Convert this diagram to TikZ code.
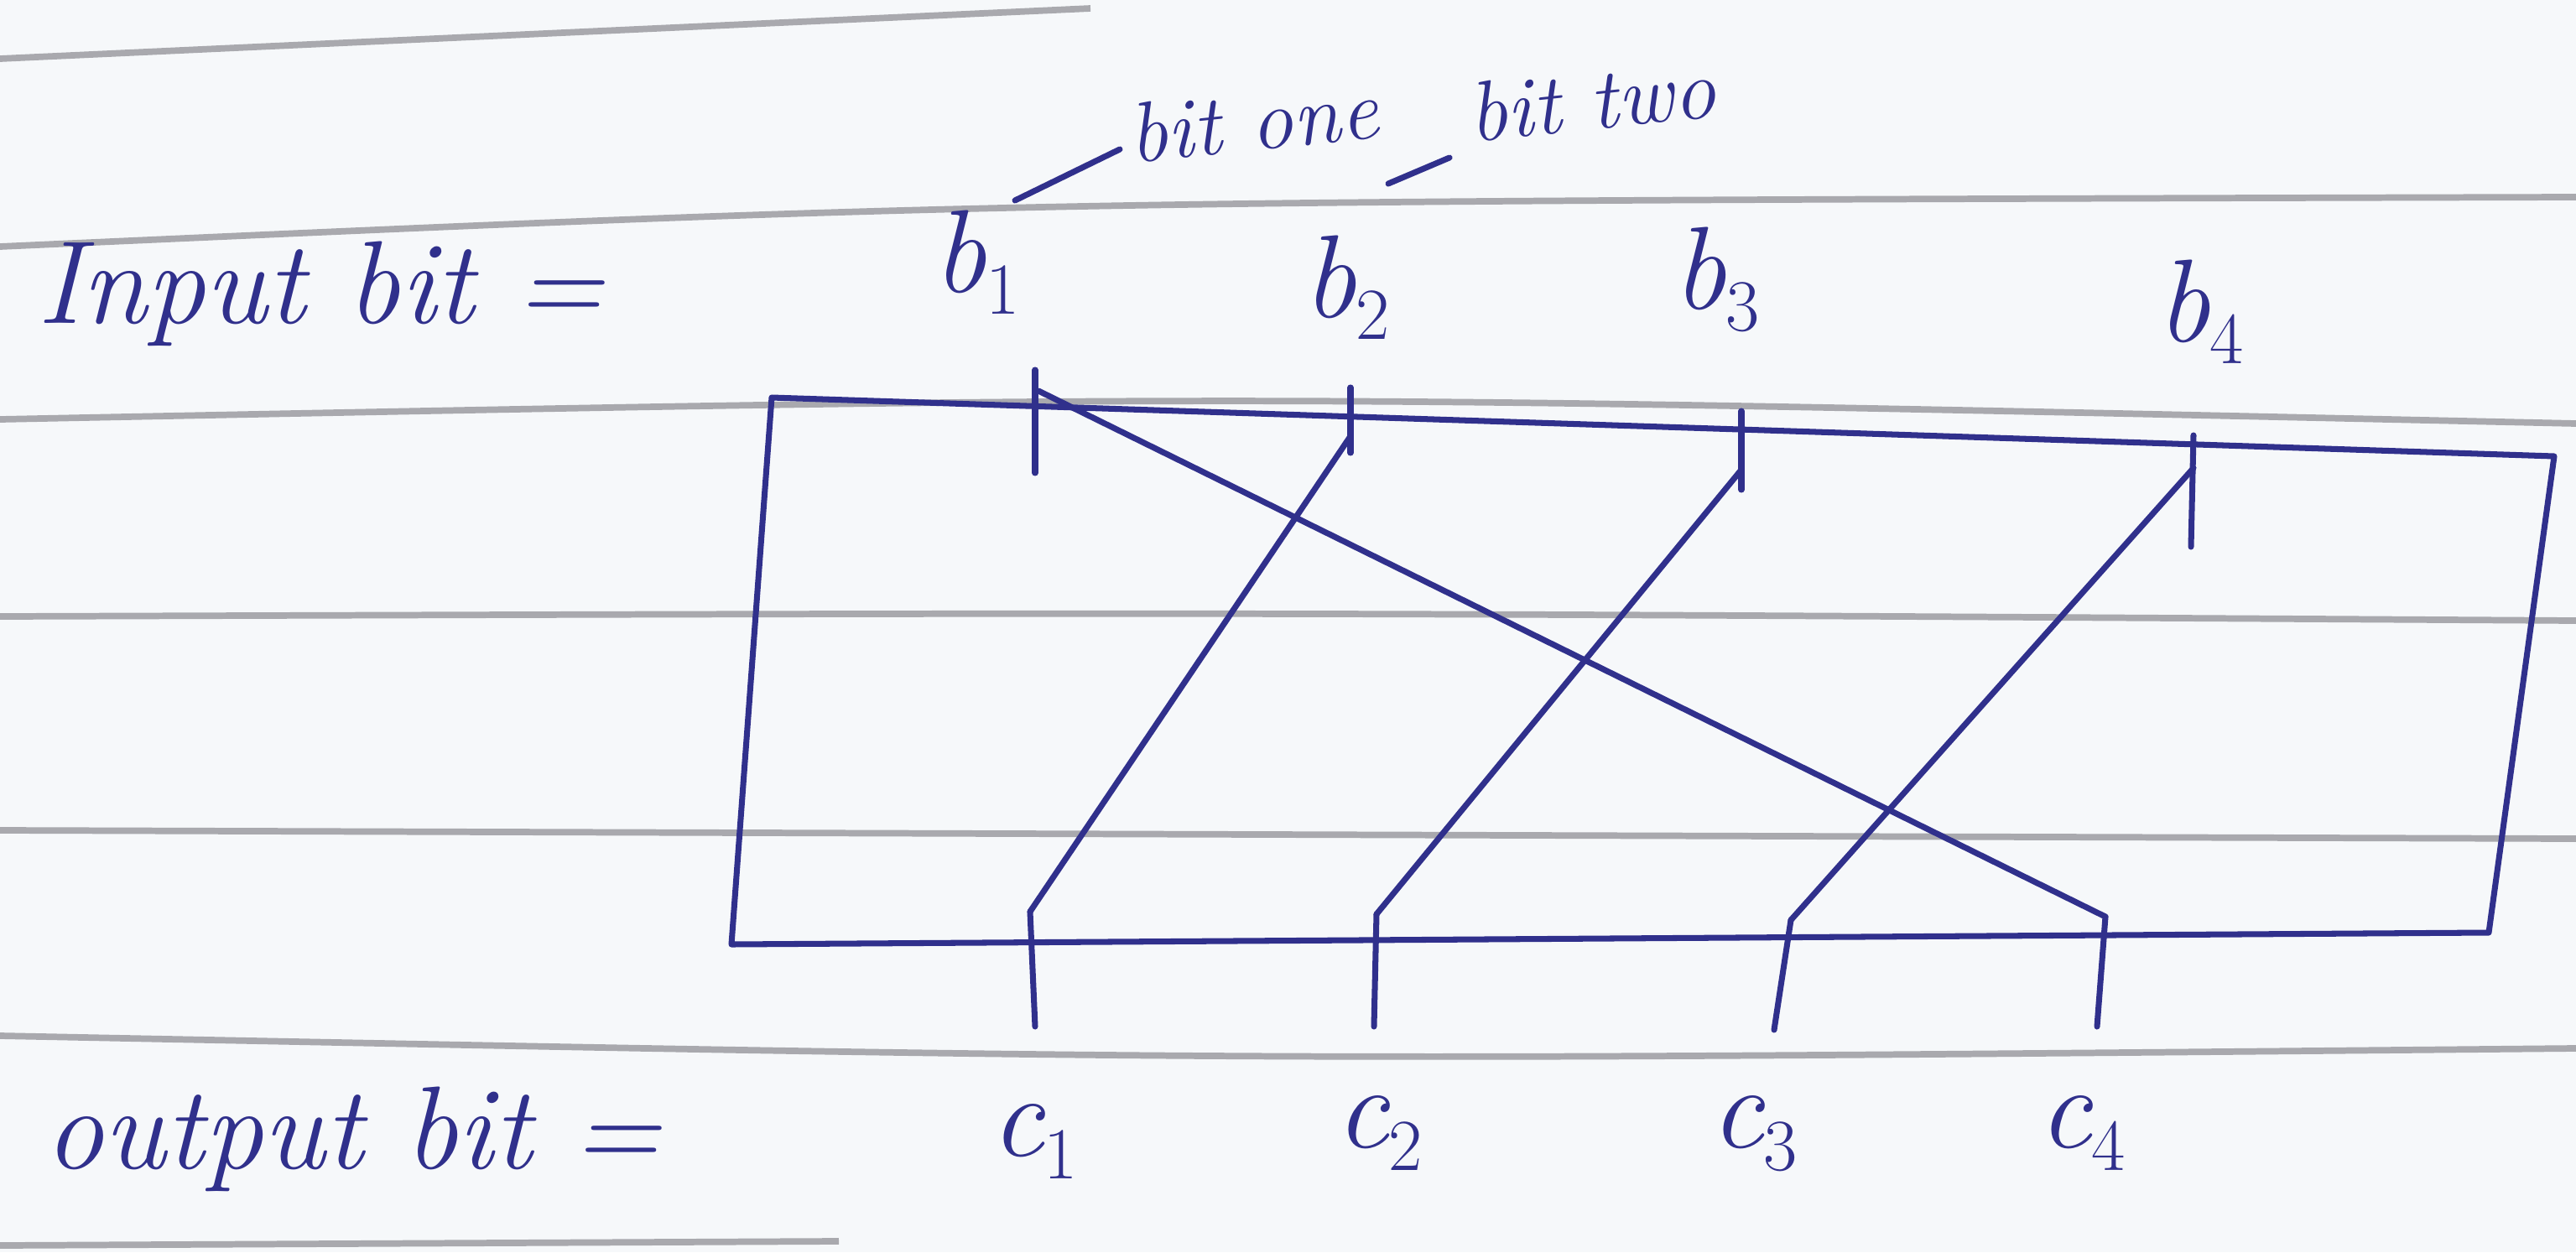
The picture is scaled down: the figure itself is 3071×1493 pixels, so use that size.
\documentclass[tikz,border=0pt]{standalone}
\usepackage{xcolor}
\definecolor{ink}{RGB}{48,48,140}
\definecolor{rule}{RGB}{150,150,155}
\definecolor{paper}{RGB}{246,248,250}
\begin{document}
\begin{tikzpicture}[x=0.01cm,y=-0.01cm,
  wire/.style={draw=ink,line width=2pt,line cap=round,line join=round},
  ruling/.style={draw=rule,line width=2.2pt,opacity=0.8},
  lbl/.style={text=ink,font=\fontsize{40}{48}\selectfont\itshape,inner sep=0pt},
  small/.style={text=ink,font=\fontsize{29}{34}\selectfont\itshape,inner sep=0pt}]
\fill[paper] (0,0) rectangle (3071,1493);
\useasboundingbox (0,0) rectangle (3071,1493);
% ruled lines of the paper
\draw[ruling] (0,70) -- (1300,10);
\draw[ruling] (0,294) .. controls (1200,240) .. (3071,235);
\draw[ruling] (0,500) .. controls (1500,470) .. (3071,505);
\draw[ruling] (0,735) .. controls (1500,730) .. (3071,740);
\draw[ruling] (0,990) .. controls (1500,995) .. (3071,1000);
\draw[ruling] (0,1235) .. controls (1500,1265) .. (3071,1250);
\draw[ruling] (0,1485) -- (1000,1480);
% box
\coordinate (TL) at (920,474);
\coordinate (TR) at (3045,544);
\coordinate (BR) at (2967,1112);
\coordinate (BL) at (872,1126);
\draw[wire] (TL) -- (TR) -- (BR) -- (BL) -- cycle;
% labels
\node[lbl] (inp) at (382,350) {Input bit =};
\node[lbl] (outp) at (421,1358) {output bit =};
\node[lbl] (b1) at (1165,313) {b$_{\scriptstyle 1}$};
\node[lbl] (b2) at (1606,343) {b$_{\scriptstyle 2}$};
\node[lbl] (b3) at (2047,333) {b$_{\scriptstyle 3}$};
\node[lbl] (b4) at (2624,372) {b$_{\scriptstyle 4}$};
\node[lbl] (c1) at (1234,1361) {c$_{\scriptstyle 1}$};
\node[lbl] (c2) at (1645,1351) {c$_{\scriptstyle 2}$};
\node[lbl] (c3) at (2092,1351) {c$_{\scriptstyle 3}$};
\node[lbl] (c4) at (2483,1351) {c$_{\scriptstyle 4}$};
\node[small,rotate=6,anchor=west] (one) at (1345,160) {bit one};
\node[small,rotate=6,anchor=west] (two) at (1750,135) {bit two};
% leader lines
\coordinate (l1a) at (1210,239); \coordinate (l1b) at (1335,178);
\coordinate (l2a) at (1655,219); \coordinate (l2b) at (1728,188);
\draw[wire] (l1a) -- (l1b);
\draw[wire] (l2a) -- (l2b);
% input ticks
\coordinate (t1a) at (1234,441); \coordinate (t1b) at (1234,564);
\coordinate (t2a) at (1610,462); \coordinate (t2b) at (1610,540);
\coordinate (t3a) at (2076,490); \coordinate (t3b) at (2076,584);
\coordinate (t4a) at (2615,519); \coordinate (t4b) at (2612,652);
\draw[wire] (t1a) -- (t1b);
\draw[wire] (t2a) -- (t2b);
\draw[wire] (t3a) -- (t3b);
\draw[wire] (t4a) -- (t4b);
% output ticks
\coordinate (u1a) at (1228,1087); \coordinate (u1b) at (1234,1224);
\coordinate (u2a) at (1641,1090); \coordinate (u2b) at (1638,1224);
\coordinate (u3a) at (2135,1097); \coordinate (u3b) at (2115,1228);
\coordinate (u4a) at (2510,1093); \coordinate (u4b) at (2500,1224);
\draw[wire] (u1a) -- (u1b);
\draw[wire] (u2a) -- (u2b);
\draw[wire] (u3a) -- (u3b);
\draw[wire] (u4a) -- (u4b);
% permutation wires
\draw[wire] (t1a) ++(4,25) -- (u4a);
\draw[wire] (t2b) ++(0,-20) -- (u1a);
\draw[wire] (t3b) ++(0,-24) -- (u2a);
\draw[wire] (t4b) ++(3,-94) -- (u3a);
\end{tikzpicture}
\end{document}
